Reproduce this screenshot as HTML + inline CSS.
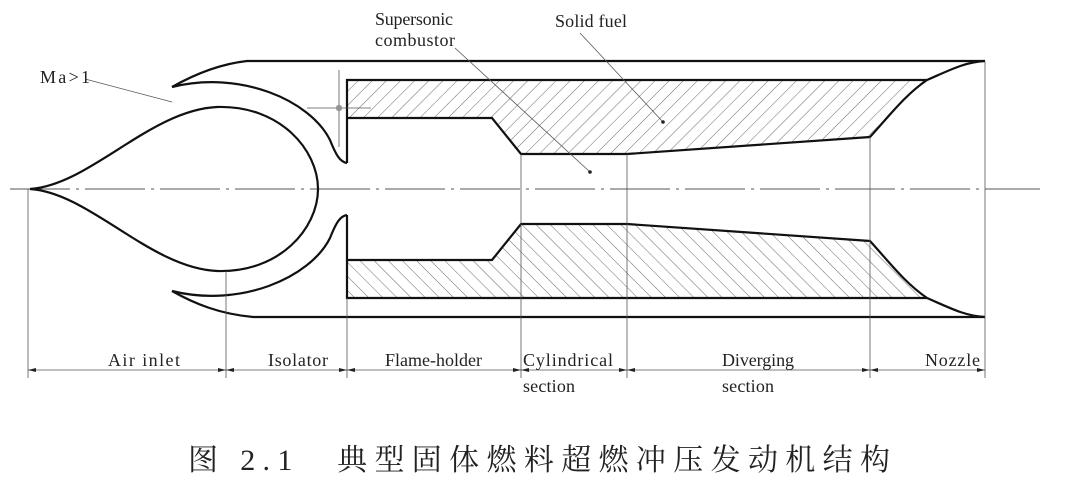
<!DOCTYPE html>
<html><head><meta charset="utf-8"><style>
html,body{margin:0;padding:0;background:#fff;}
svg{display:block;}
text{font-family:"Liberation Serif","Noto Serif CJK SC",serif;fill:#222;}
</style></head><body>
<svg width="1077" height="489" viewBox="0 0 1077 489" xmlns="http://www.w3.org/2000/svg">
<defs>
<pattern id="hu" width="10" height="10" patternUnits="userSpaceOnUse" patternTransform="rotate(45)">
<line x1="0" y1="0" x2="0" y2="10" stroke="#444" stroke-width="0.8"/></pattern>
<pattern id="hd" width="10" height="10" patternUnits="userSpaceOnUse" patternTransform="rotate(-45)">
<line x1="0" y1="0" x2="0" y2="10" stroke="#444" stroke-width="0.8"/></pattern>
</defs>
<line x1="10" y1="189" x2="1040" y2="189" stroke="#555" stroke-width="1" stroke-dasharray="60,6,3,6"/>
<path d="M347,80 L927,80 C905,100 885,120 870,137 L627,154 L521,154 L492,118 L347,118 Z" fill="url(#hu)" stroke="none"/>
<path d="M347,298 L927,298 C905,278 885,258 870,241 L627,224 L521,224 L492,260 L347,260 Z" fill="url(#hd)" stroke="none"/>
<g fill="none" stroke="#111" stroke-width="2.2">
<path d="M172,87 C195,74 220,64 247,61 L985,61"/>
<path d="M172,291 C195,304 220,314 253,317 L985,317"/>
<path d="M172,87 C240,70 310,100 330,140 C336,155 340,162 347,163"/>
<path d="M172,291 C240,308 310,278 330,238 C336,223 340,216 347,215"/>
<path d="M347,163 L347,80 L927,80 C950,70 965,62 985,61"/>
<path d="M347,118 L492,118 L521,154 L627,154 L870,137 C890,115 905,95 927,80"/>
<path d="M347,215 L347,298 L927,298 C950,308 965,316 985,317"/>
<path d="M347,260 L492,260 L521,224 L627,224 L870,241 C890,263 905,283 927,298"/>
<path d="M30,189 C90,185 150,110 217,107 C280,105 318,150 318,189 C318,228 280,273 217,271 C150,268 90,193 30,189 Z"/>
</g>
<g stroke="#555" stroke-width="0.8" fill="none">
<line x1="307" y1="108" x2="371" y2="108"/><line x1="339" y1="70" x2="339" y2="147"/>
<rect x="337" y="106" width="4" height="4"/>
<line x1="85" y1="79" x2="172" y2="102"/>
<line x1="455" y1="48" x2="590" y2="172"/>
<line x1="580" y1="33" x2="663" y2="122"/>
<line x1="28" y1="189" x2="28" y2="378"/>
<line x1="226" y1="271" x2="226" y2="378"/>
<line x1="347" y1="298" x2="347" y2="378"/>
<line x1="521" y1="154" x2="521" y2="378"/>
<line x1="627" y1="154" x2="627" y2="378"/>
<line x1="870" y1="137" x2="870" y2="378"/>
<line x1="985" y1="61" x2="985" y2="378"/>
<line x1="28" y1="370" x2="985" y2="370"/>
</g>
<g fill="#222">
<circle cx="590" cy="172" r="1.8"/><circle cx="663" cy="122" r="1.8"/>
<path d="M28,370 l8,-2 v4z M226,370 l-8,-2 v4z M226,370 l8,-2 v4z M347,370 l-8,-2 v4z M347,370 l8,-2 v4z M521,370 l-8,-2 v4z M521,370 l8,-2 v4z M627,370 l-8,-2 v4z M627,370 l8,-2 v4z M870,370 l-8,-2 v4z M870,370 l8,-2 v4z M985,370 l-8,-2 v4z"/>
</g>
<g font-size="18">
<text x="40" y="83" textLength="50">Ma&gt;1</text>
<text x="375" y="25" textLength="78">Supersonic</text>
<text x="375" y="46" textLength="80">combustor</text>
<text x="555" y="27" textLength="72">Solid fuel</text>
<text x="108" y="366" textLength="72">Air inlet</text>
<text x="268" y="366" textLength="60">Isolator</text>
<text x="385" y="366" textLength="97">Flame-holder</text>
<text x="523" y="366" textLength="90">Cylindrical</text>
<text x="523" y="392" textLength="52">section</text>
<text x="722" y="366" textLength="72">Diverging</text>
<text x="722" y="392" textLength="52">section</text>
<text x="925" y="366" textLength="55">Nozzle</text>
</g>
<text x="188" y="470" font-size="30" textLength="702" lengthAdjust="spacing" font-family="'Noto Serif CJK SC',serif">图 2.1　典型固体燃料超燃冲压发动机结构</text>
</svg>
</body></html>
